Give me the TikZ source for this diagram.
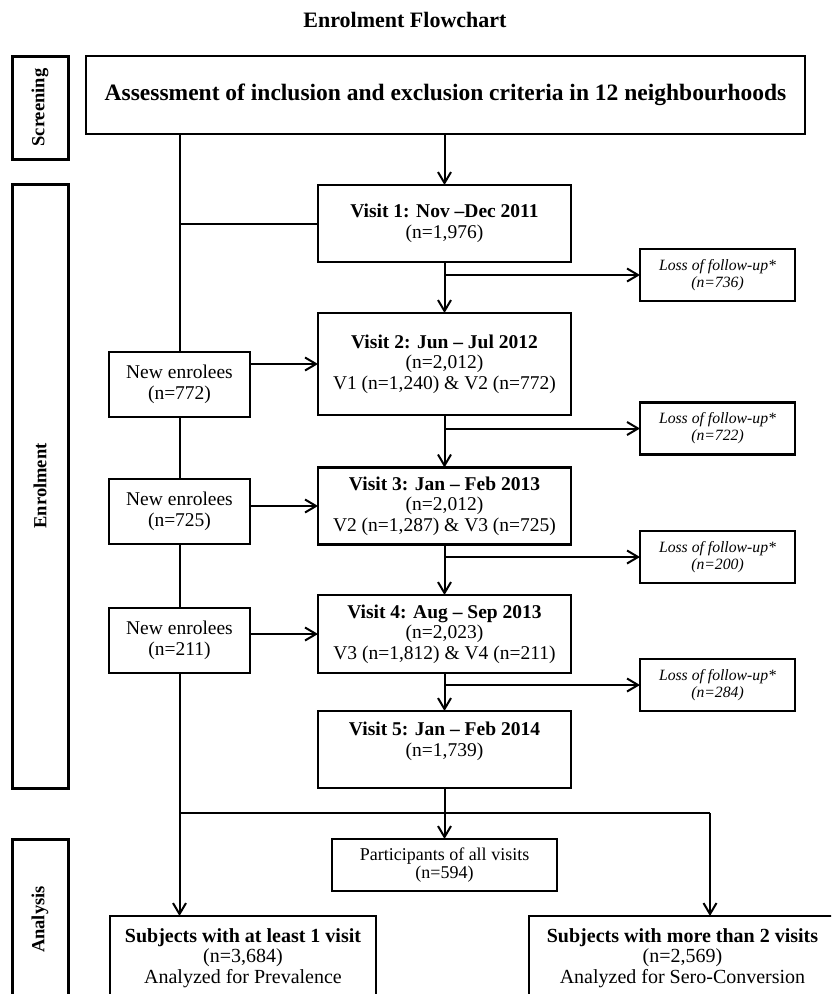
\documentclass[tikz,border=0pt]{standalone}
\usepackage{fontspec}
\setmainfont{Liberation Serif}
\usetikzlibrary{arrows.meta}

\begin{document}
\begin{tikzpicture}[x=1pt,y=-1pt,
  box/.style={draw,line width=2.2pt,align=center,inner sep=0pt,outer sep=0pt},
  side/.style={draw,line width=3pt,inner sep=0pt,rotate=90,font=\fontsize{18.5}{20}\selectfont\bfseries},
  visit/.style={box,minimum width=253pt,font=\fontsize{19.5}{20.5}\selectfont},
  loss/.style={box,minimum width=155pt,minimum height=52pt,font=\fontsize{15.7}{17}\selectfont\itshape},
  newbox/.style={box,minimum width=141pt,minimum height=65pt,font=\fontsize{19.5}{20.5}\selectfont},
  arr/.style={line width=2pt,-{Straight Barb[length=11pt,width=13pt]}},
  ln/.style={line width=2pt}]

% area da figura
\clip (0,0) rectangle (831,994);

% titulo
\node (title) at (405,20) {\fontsize{22}{26}\selectfont\bfseries Enrolment Flowchart};

% faixas laterais
\node[side,minimum width=103pt,minimum height=56pt] (scr) at (40,107.5) {Screening};
\node[side,minimum width=604pt,minimum height=56pt] (enr) at (40,486) {Enrolment};
\node[side,minimum width=161pt,minimum height=56pt] (ana) at (40,919.5) {Analysis};

% triagem
\node[box,minimum width=719pt,minimum height=78pt,font=\fontsize{23.5}{28}\selectfont\bfseries]
  (assess) at (445.5,95) {Assessment of inclusion and exclusion criteria in 12 neighbourhoods};

% visitas
\node[visit,minimum height=77pt] (v1) at (444.5,223.5) {\textbf{Visit 1: Nov --Dec 2011}\\(n=1,976)};
\node[visit,minimum height=102pt] (v2) at (444.5,364) {\textbf{Visit 2: Jun -- Jul 2012}\\(n=2,012)\\V1 (n=1,240) \& V2 (n=772)};
\node[visit,minimum height=77pt] (v3) at (444.5,506) {\textbf{Visit 3: Jan -- Feb 2013}\\(n=2,012)\\V2 (n=1,287) \& V3 (n=725)};
\node[visit,minimum height=78pt] (v4) at (444.5,634) {\textbf{Visit 4: Aug -- Sep 2013}\\(n=2,023)\\V3 (n=1,812) \& V4 (n=211)};
\node[visit,minimum height=77pt] (v5) at (444.5,749.5) {\textbf{Visit 5: Jan -- Feb 2014}\\(n=1,739)\\\mbox{}};

% perdas
\node[loss] (loss1) at (717.5,275) {Loss of follow-up*\\(n=736)};
\node[loss] (loss2) at (717.5,428.5) {Loss of follow-up*\\(n=722)};
\node[loss] (loss3) at (717.5,557) {Loss of follow-up*\\(n=200)};
\node[loss] (loss4) at (717.5,685) {Loss of follow-up*\\(n=284)};

% novos participantes
\node[newbox] (ne1) at (179.5,384.5) {New enrolees\\(n=772)};
\node[newbox] (ne2) at (179.5,511.5) {New enrolees\\(n=725)};
\node[newbox] (ne3) at (179.5,640.5) {New enrolees\\(n=211)};

% analise
\node[box,minimum width=225pt,minimum height=52pt,font=\fontsize{18}{18}\selectfont]
  (part) at (444.5,865) {Participants of all visits\\(n=594)};
\node[box,minimum width=266pt,minimum height=84pt,font=\fontsize{20}{20.5}\selectfont]
  (sub1) at (243,958) {\textbf{Subjects with at least 1 visit}\\(n=3,684)\\Analyzed for Prevalence};
\node[box,minimum width=307pt,minimum height=84pt,font=\fontsize{20}{20.5}\selectfont]
  (sub2) at (682.5,958) {\textbf{Subjects with more than 2 visits}\\(n=2,569)\\Analyzed for Sero-Conversion};

% pontos de juncao
\coordinate (b1) at (v1.south |- loss1);
\coordinate (b2) at (v2.south |- loss2);
\coordinate (b3) at (v3.south |- loss3);
\coordinate (b4) at (v4.south |- loss4);
\coordinate (jm) at (444.5,813);
\coordinate (jr) at (710,813);

% linha da esquerda
\draw[ln] (assess.south -| ne1) -- (ne1.north);
\draw[ln] (v1.west -| ne1) -- (v1.west);
\draw[ln] (ne1) -- (ne2);
\draw[ln] (ne2) -- (ne3);
\draw[arr] (ne3.south) -- (sub1.north -| ne3);

% coluna central
\draw[arr] (assess.south -| v1) -- (v1.north);
\draw[arr] (v1) -- (v2);
\draw[arr] (v2) -- (v3);
\draw[arr] (v3) -- (v4);
\draw[arr] (v4) -- (v5);
\draw[arr] (v5) -- (part);

% saidas
\draw[arr] (b1) -- (loss1);
\draw[arr] (b2) -- (loss2);
\draw[arr] (b3) -- (loss3);
\draw[arr] (b4) -- (loss4);

% entradas
\draw[arr] (ne1.east |- v2) -- (v2.west);
\draw[arr] (ne2.east |- v3) -- (v3.west);
\draw[arr] (ne3.east |- v4) -- (v4.west);

% ramo inferior
\draw[ln] (jm -| ne3) -- (jr);
\draw[arr] (jr) -- (jr |- sub2.north);

\end{tikzpicture}
\end{document}
